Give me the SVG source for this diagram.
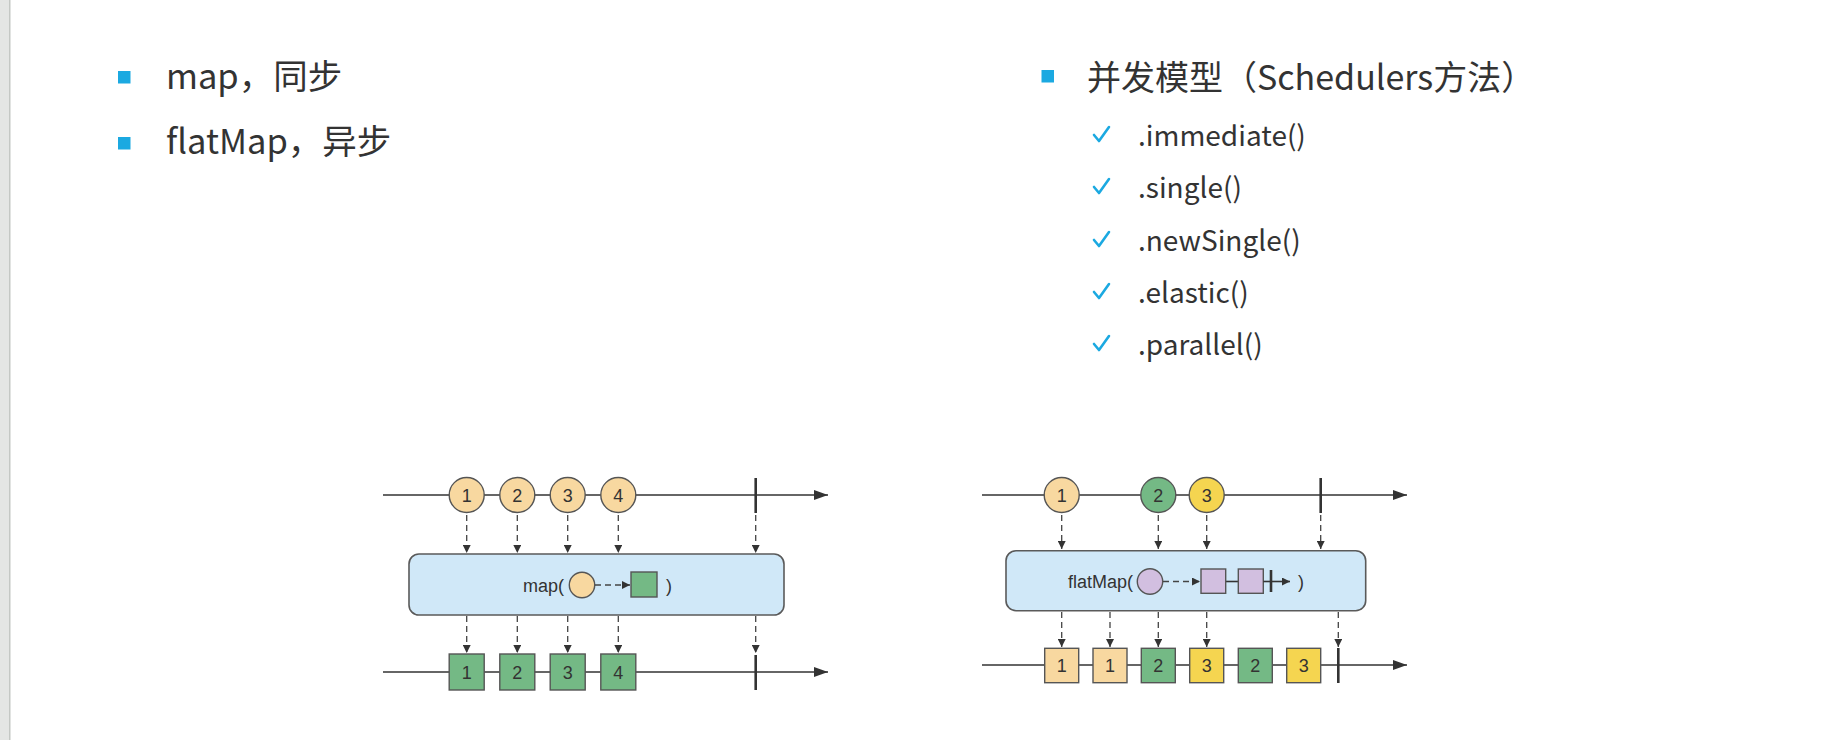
<svg xmlns="http://www.w3.org/2000/svg" width="1827" height="740" viewBox="0 0 1827 740">
<defs>
<style>
.hd{font-family:"Noto Sans CJK SC","Noto Sans",sans-serif;font-size:34px;fill:#333333}
.hl{font-family:"Noto Sans CJK SC","Noto Sans",sans-serif;font-size:34.5px;fill:#333333}
.it{font-family:"Noto Sans CJK SC","Noto Sans",sans-serif;font-size:28px;fill:#333333}
.bul{fill:#1ba9e1}
.chk{fill:none;stroke:#1ba9e1;stroke-width:2.6;stroke-linecap:round;stroke-linejoin:round}
.ln{stroke:#333;stroke-width:1.6;fill:none}
.tick{stroke:#333;stroke-width:2.6}
.dash{stroke:#444;stroke-width:1.3;stroke-dasharray:6 4;fill:none}
.box{fill:#d0e8f8;stroke:#5a5a5a;stroke-width:1.6}
.sh{stroke:#555;stroke-width:1.4}
.or{fill:#f8d8a0}
.gr{fill:#74b985}
.ye{fill:#f5d550}
.pu{fill:#d2bfe0}
.lbl{font-family:"Liberation Sans",Arial,sans-serif;font-size:18px;fill:#333;text-anchor:middle}
.fn{font-family:"Liberation Sans",Arial,sans-serif;font-size:18px;fill:#333}
</style>
<marker id="big" viewBox="0 0 14 10" refX="14" refY="5" markerWidth="14" markerHeight="10" markerUnits="userSpaceOnUse" orient="auto"><path d="M0,0 L14,5 L0,10 Z" fill="#333"/></marker>
<marker id="sm" viewBox="0 0 8 8" refX="8" refY="4" markerWidth="8" markerHeight="8" markerUnits="userSpaceOnUse" orient="auto"><path d="M0,0 L8,4 L0,8 Z" fill="#333"/></marker>
</defs>
<rect x="0" y="0" width="1827" height="740" fill="#ffffff"/>
<rect x="0" y="0" width="9" height="740" fill="#e4e6e4"/>
<rect x="9" y="0" width="1.5" height="740" fill="#c4c8c4"/>

<g id="left-list">
<rect class="bul" x="118" y="71" width="12.5" height="12.5"/>
<text class="hl" x="166" y="89">map，同步</text>
<rect class="bul" x="118" y="137" width="12.5" height="12.5"/>
<text class="hl" x="166" y="154">flatMap，异步</text>
</g>

<g id="right-list">
<rect class="bul" x="1041.5" y="70" width="12.5" height="12.5"/>
<text class="hd" x="1087" y="90">并发模型（Schedulers方法）</text>
<path class="chk" d="M1094,135 L1099,141 L1109,127"/>
<text class="it" x="1138" y="146">.immediate()</text>
<path class="chk" d="M1094,187 L1099,193 L1109,179"/>
<text class="it" x="1138" y="198">.single()</text>
<path class="chk" d="M1094,240 L1099,246 L1109,232"/>
<text class="it" x="1138" y="251">.newSingle()</text>
<path class="chk" d="M1094,292 L1099,298 L1109,284"/>
<text class="it" x="1138" y="303">.elastic()</text>
<path class="chk" d="M1094,344 L1099,350 L1109,336"/>
<text class="it" x="1138" y="355">.parallel()</text>
</g>

<g id="connectors">
<line class="ln" x1="383" y1="495" x2="828" y2="495" marker-end="url(#big)"/>
<line class="ln" x1="383" y1="672" x2="828" y2="672" marker-end="url(#big)"/>
<line class="dash" x1="466.7" y1="515" x2="466.7" y2="553" marker-end="url(#sm)"/>
<line class="dash" x1="517.3" y1="515" x2="517.3" y2="553" marker-end="url(#sm)"/>
<line class="dash" x1="567.7" y1="515" x2="567.7" y2="553" marker-end="url(#sm)"/>
<line class="dash" x1="618.3" y1="515" x2="618.3" y2="553" marker-end="url(#sm)"/>
<line class="dash" x1="755.7" y1="515" x2="755.7" y2="553" marker-end="url(#sm)"/>
<line class="dash" x1="466.7" y1="616" x2="466.7" y2="653" marker-end="url(#sm)"/>
<line class="dash" x1="517.3" y1="616" x2="517.3" y2="653" marker-end="url(#sm)"/>
<line class="dash" x1="567.7" y1="616" x2="567.7" y2="653" marker-end="url(#sm)"/>
<line class="dash" x1="618.3" y1="616" x2="618.3" y2="653" marker-end="url(#sm)"/>
<line class="dash" x1="755.7" y1="616" x2="755.7" y2="653" marker-end="url(#sm)"/>
<line class="ln" x1="982" y1="495" x2="1407" y2="495" marker-end="url(#big)"/>
<line class="ln" x1="982" y1="665" x2="1407" y2="665" marker-end="url(#big)"/>
<line class="dash" x1="1061.7" y1="515" x2="1061.7" y2="549" marker-end="url(#sm)"/>
<line class="dash" x1="1158.3" y1="515" x2="1158.3" y2="549" marker-end="url(#sm)"/>
<line class="dash" x1="1206.7" y1="515" x2="1206.7" y2="549" marker-end="url(#sm)"/>
<line class="dash" x1="1320.7" y1="515" x2="1320.7" y2="549" marker-end="url(#sm)"/>
<line class="dash" x1="1061.7" y1="612" x2="1061.7" y2="647" marker-end="url(#sm)"/>
<line class="dash" x1="1110" y1="612" x2="1110" y2="647" marker-end="url(#sm)"/>
<line class="dash" x1="1158.3" y1="612" x2="1158.3" y2="647" marker-end="url(#sm)"/>
<line class="dash" x1="1206.7" y1="612" x2="1206.7" y2="647" marker-end="url(#sm)"/>
<line class="dash" x1="1338.3" y1="612" x2="1338.3" y2="647" marker-end="url(#sm)"/>
</g>

<g id="map-diagram">
<line class="tick" x1="755.7" y1="478" x2="755.7" y2="513"/>
<line class="tick" x1="755.7" y1="655" x2="755.7" y2="690"/>
<g id="map-in-1"><circle class="or sh" cx="466.7" cy="495" r="17.5"/><text class="lbl" x="466.7" y="501.5">1</text></g>
<g id="map-in-2"><circle class="or sh" cx="517.3" cy="495" r="17.5"/><text class="lbl" x="517.3" y="501.5">2</text></g>
<g id="map-in-3"><circle class="or sh" cx="567.7" cy="495" r="17.5"/><text class="lbl" x="567.7" y="501.5">3</text></g>
<g id="map-in-4"><circle class="or sh" cx="618.3" cy="495" r="17.5"/><text class="lbl" x="618.3" y="501.5">4</text></g>
<g id="map-op">
<rect class="box" x="409" y="554" width="375" height="61" rx="10"/>
<text class="fn" x="564" y="591.5" text-anchor="end">map(</text>
<circle class="or sh" cx="582" cy="585" r="12.7"/>
<line class="dash" x1="595" y1="585" x2="630" y2="585" stroke-dasharray="5 4" marker-end="url(#sm)"/>
<rect class="gr sh" x="631" y="572" width="26" height="25"/>
<text class="fn" x="666" y="591.5">)</text>
</g>
<g id="map-out-1"><rect class="gr sh" x="449.2" y="654" width="35" height="36"/><text class="lbl" x="466.7" y="678.5">1</text></g>
<g id="map-out-2"><rect class="gr sh" x="499.8" y="654" width="35" height="36"/><text class="lbl" x="517.3" y="678.5">2</text></g>
<g id="map-out-3"><rect class="gr sh" x="550.2" y="654" width="35" height="36"/><text class="lbl" x="567.7" y="678.5">3</text></g>
<g id="map-out-4"><rect class="gr sh" x="600.8" y="654" width="35" height="36"/><text class="lbl" x="618.3" y="678.5">4</text></g>
</g>

<g id="flatmap-diagram">
<line class="tick" x1="1320.7" y1="478" x2="1320.7" y2="513"/>
<line class="tick" x1="1338.3" y1="648" x2="1338.3" y2="683"/>
<g id="fm-in-1"><circle class="or sh" cx="1061.7" cy="495" r="17.5"/><text class="lbl" x="1061.7" y="501.5">1</text></g>
<g id="fm-in-2"><circle class="gr sh" cx="1158.3" cy="495" r="17.5"/><text class="lbl" x="1158.3" y="501.5">2</text></g>
<g id="fm-in-3"><circle class="ye sh" cx="1206.7" cy="495" r="17.5"/><text class="lbl" x="1206.7" y="501.5">3</text></g>
<g id="fm-op">
<rect class="box" x="1006" y="550.7" width="359.7" height="60" rx="10"/>
<text class="fn" x="1133" y="588" text-anchor="end">flatMap(</text>
<circle class="pu sh" cx="1150" cy="581.5" r="12.7"/>
<line class="dash" x1="1163" y1="581.5" x2="1200" y2="581.5" stroke-dasharray="5 4" marker-end="url(#sm)"/>
<line class="ln" x1="1225.7" y1="581.5" x2="1238.3" y2="581.5" stroke-width="1.3"/>
<rect class="pu sh" x="1201" y="569" width="24.7" height="24.3"/>
<rect class="pu sh" x="1238.3" y="569" width="25" height="24.3"/>
<line class="ln" x1="1263.3" y1="581.5" x2="1290" y2="581.5" stroke-width="1.3" marker-end="url(#sm)"/>
<line class="tick" x1="1271" y1="570" x2="1271" y2="592" stroke-width="2"/>
<text class="fn" x="1298" y="588">)</text>
</g>
<g id="fm-out-1"><rect class="or sh" x="1044.7" y="648.3" width="34" height="34.4"/><text class="lbl" x="1061.7" y="671.5">1</text></g>
<g id="fm-out-2"><rect class="or sh" x="1093" y="648.3" width="34" height="34.4"/><text class="lbl" x="1110" y="671.5">1</text></g>
<g id="fm-out-3"><rect class="gr sh" x="1141.3" y="648.3" width="34" height="34.4"/><text class="lbl" x="1158.3" y="671.5">2</text></g>
<g id="fm-out-4"><rect class="ye sh" x="1189.7" y="648.3" width="34" height="34.4"/><text class="lbl" x="1206.7" y="671.5">3</text></g>
<g id="fm-out-5"><rect class="gr sh" x="1238.3" y="648.3" width="34" height="34.4"/><text class="lbl" x="1255.3" y="671.5">2</text></g>
<g id="fm-out-6"><rect class="ye sh" x="1286.7" y="648.3" width="34" height="34.4"/><text class="lbl" x="1303.7" y="671.5">3</text></g>
</g>
</svg>
